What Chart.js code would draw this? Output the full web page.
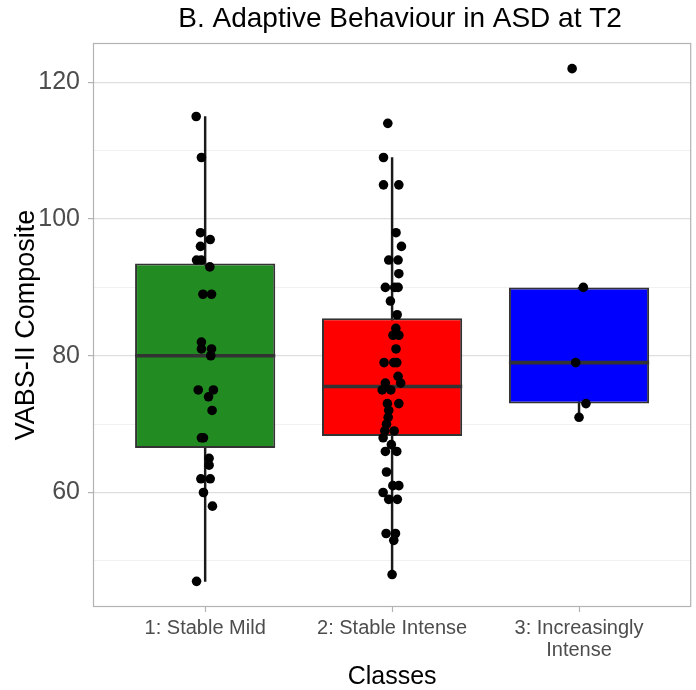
<!DOCTYPE html>
<html>
<head>
<meta charset="utf-8">
<script src="https://cdn.jsdelivr.net/npm/chart.js@4.4.1/dist/chart.umd.min.js"></script>
<style>
html, body { margin: 0; padding: 0; background: #ffffff; }
#wrap { width: 696px; height: 690px; }
</style>
</head>
<body>
<div id="wrap"><canvas id="c" width="696" height="690"></canvas></div>
<script>
// ---- data ----
const TITLE = 'B. Adaptive Behaviour in ASD at T2';
const X_TITLE = 'Classes';
const Y_TITLE = 'VABS-II Composite';
const CATEGORIES = ['1: Stable Mild', '2: Stable Intense', '3: Increasingly\nIntense'];
const BOX_COLORS = ['#228B22', '#FF0000', '#0000FF'];

const Q1 = [66.5, 68.25, 73];
const MEDIAN = [80, 75.5, 79];
const Q3 = [93.5, 85.5, 90];
const WHISKER_LOW = [47, 48, 71];
const WHISKER_HIGH = [115, 109, 90];

const VALUES_1 = [115, 109, 98, 97, 96, 94, 94, 93, 89, 89, 82, 81, 81, 80, 75, 75, 74, 72, 68, 68, 65, 64, 62, 62, 60, 58, 47];
const JITTER_1 = [-0.048, -0.020, -0.025, 0.027, -0.025, -0.046, -0.021, 0.025, -0.012, 0.034, -0.020, -0.020, 0.034, 0.030, -0.037, 0.044, 0.018, 0.037, -0.020, -0.009, 0.021, 0.021, -0.023, 0.027, -0.009, 0.039, -0.046];

const VALUES_2 = [114, 109, 105, 105, 98, 96, 94, 94, 92, 90, 90, 90, 88, 86, 84, 83, 83, 81, 79, 79, 79, 77, 76, 76, 75, 75, 73, 73, 72, 71, 70, 69, 69, 68, 67, 66, 66, 63, 61, 61, 60, 59, 59, 54, 54, 53, 48];
const JITTER_2 = [-0.023, -0.046, -0.046, 0.036, 0.021, 0.050, -0.018, 0.032, 0.036, -0.036, 0.014, 0.032, -0.009, 0.027, 0.020, 0.005, 0.036, 0.021, -0.043, 0.009, 0.025, 0.032, 0.046, -0.036, -0.053, -0.007, -0.025, 0.036, -0.018, -0.021, -0.030, -0.039, 0.011, -0.048, -0.004, -0.036, 0.025, -0.030, 0.004, 0.036, -0.048, -0.018, 0.028, -0.032, 0.018, 0.009, 0.000];

const VALUES_3 = [122, 90, 79, 73, 71];
const JITTER_3 = [-0.037, 0.023, -0.018, 0.037, 0.000];

const Y_TICKS = [50, 60, 70, 80, 90, 100, 110, 120];
const Y_LABELED = [60, 80, 100, 120];
const Y_RANGE = [43.25, 125.75];
const X_RANGE = [0.4, 3.6];

// ---- styling ----
const BOX_WIDTH = 0.75;
const FONT = '"Liberation Sans", Arial, Helvetica, sans-serif';
Chart.defaults.font.family = FONT;

const VALUES = [VALUES_1, VALUES_2, VALUES_3];
const JITTER = [JITTER_1, JITTER_2, JITTER_3];

const points = [];
VALUES.forEach((vals, g) => {
  vals.forEach((v, k) => points.push({ x: g + 1 + JITTER[g][k], y: v }));
});

const medianLine = [];
MEDIAN.forEach((m, g) => {
  medianLine.push({ x: g + 1 - BOX_WIDTH / 2, y: m });
  medianLine.push({ x: g + 1 + BOX_WIDTH / 2, y: m });
  medianLine.push({ x: g + 1.5, y: null });
});

const panelBorder = {
  id: 'panelBorder',
  afterDatasetsDraw(chart) {
    const { ctx, chartArea: a } = chart;
    ctx.save();
    ctx.strokeStyle = '#b3b3b3';
    ctx.lineWidth = 1.2;
    ctx.strokeRect(a.left + 0.5, a.top + 0.5, a.right - a.left - 1, a.bottom - a.top - 1);
    ctx.restore();
  }
};

const plotTitle = {
  id: 'plotTitle',
  afterDraw(chart) {
    const { ctx, chartArea: a } = chart;
    ctx.save();
    ctx.fillStyle = '#000000';
    ctx.font = '28px ' + FONT;
    ctx.textAlign = 'center';
    ctx.textBaseline = 'middle';
    ctx.fillText(TITLE, (a.left + a.right) / 2 + 8, 19);
    ctx.restore();
  }
};

new Chart(document.getElementById('c'), {
  type: 'bar',
  data: {
    datasets: [
      {
        type: 'scatter',
        data: points,
        backgroundColor: '#000000',
        borderColor: '#000000',
        pointRadius: 4.8,
        pointBorderWidth: 0,
        order: 0
      },
      {
        type: 'line',
        data: medianLine,
        borderColor: '#333333',
        borderWidth: 3.6,
        pointRadius: 0,
        spanGaps: false,
        borderCapStyle: 'butt',
        order: 1
      },
      {
        type: 'bar',
        data: CATEGORIES.map((_, i) => ({ x: i + 1, y: [Q1[i], Q3[i]] })),
        backgroundColor: BOX_COLORS,
        borderColor: '#333333',
        borderWidth: 2,
        borderSkipped: false,
        grouped: false,
        categoryPercentage: 1,
        barPercentage: BOX_WIDTH,
        order: 2
      },
      {
        type: 'bar',
        data: CATEGORIES.map((_, i) => ({ x: i + 1, y: [WHISKER_LOW[i], WHISKER_HIGH[i]] })),
        backgroundColor: '#1a1a1a',
        borderWidth: 0,
        grouped: false,
        categoryPercentage: 1,
        barPercentage: 1,
        maxBarThickness: 1.8,
        order: 3
      }
    ]
  },
  options: {
    responsive: false,
    animation: false,
    layout: { padding: { left: 0, right: 1, top: 43, bottom: 0 } },
    plugins: {
      legend: { display: false },
      tooltip: { enabled: false },
      title: { display: false }
    },
    scales: {
      x: {
        type: 'linear',
        min: X_RANGE[0],
        max: X_RANGE[1],
        offset: false,
        afterBuildTicks(scale) { scale.ticks = CATEGORIES.map((_, i) => ({ value: i + 1 })); },
        afterFit(scale) { scale.height = 83; },
        ticks: {
          autoSkip: false,
          maxRotation: 0,
          minRotation: 0,
          padding: 5,
          color: '#4d4d4d',
          font: { size: 20, lineHeight: 1.1 },
          callback: (v) => {
            const lab = CATEGORIES[Math.round(v) - 1];
            return lab ? lab.split('\n') : '';
          }
        },
        grid: {
          offset: false,
          drawOnChartArea: false,
          drawTicks: true,
          tickLength: 5,
          tickColor: '#b3b3b3',
          tickWidth: 1.2
        },
        border: { display: false },
        title: {
          display: true,
          text: X_TITLE,
          color: '#000000',
          font: { size: 25, lineHeight: 1 },
          padding: { top: 0, bottom: 0.5 }
        }
      },
      y: {
        type: 'linear',
        min: Y_RANGE[0],
        max: Y_RANGE[1],
        afterBuildTicks(scale) { scale.ticks = Y_TICKS.map(v => ({ value: v })); },
        afterFit(scale) { scale.width = 93; },
        ticks: {
          padding: 8,
          color: '#4d4d4d',
          font: { size: 25 },
          callback: (v) => (Y_LABELED.includes(v) ? String(v) : '')
        },
        grid: {
          drawTicks: true,
          tickLength: 5,
          color: (ctx) => (Y_LABELED.includes(ctx.tick.value) ? '#dedede' : '#eeeeee'),
          lineWidth: (ctx) => (Y_LABELED.includes(ctx.tick.value) ? 1.2 : 0.8),
          tickColor: (ctx) => (Y_LABELED.includes(ctx.tick.value) ? '#b3b3b3' : 'rgba(0,0,0,0)'),
          tickWidth: 1.2
        },
        border: { display: false },
        title: {
          display: true,
          text: Y_TITLE,
          color: '#000000',
          font: { size: 27, lineHeight: 1 },
          padding: { top: 13.5, bottom: 0 }
        }
      }
    }
  },
  plugins: [panelBorder, plotTitle]
});
</script>
</body>
</html>
